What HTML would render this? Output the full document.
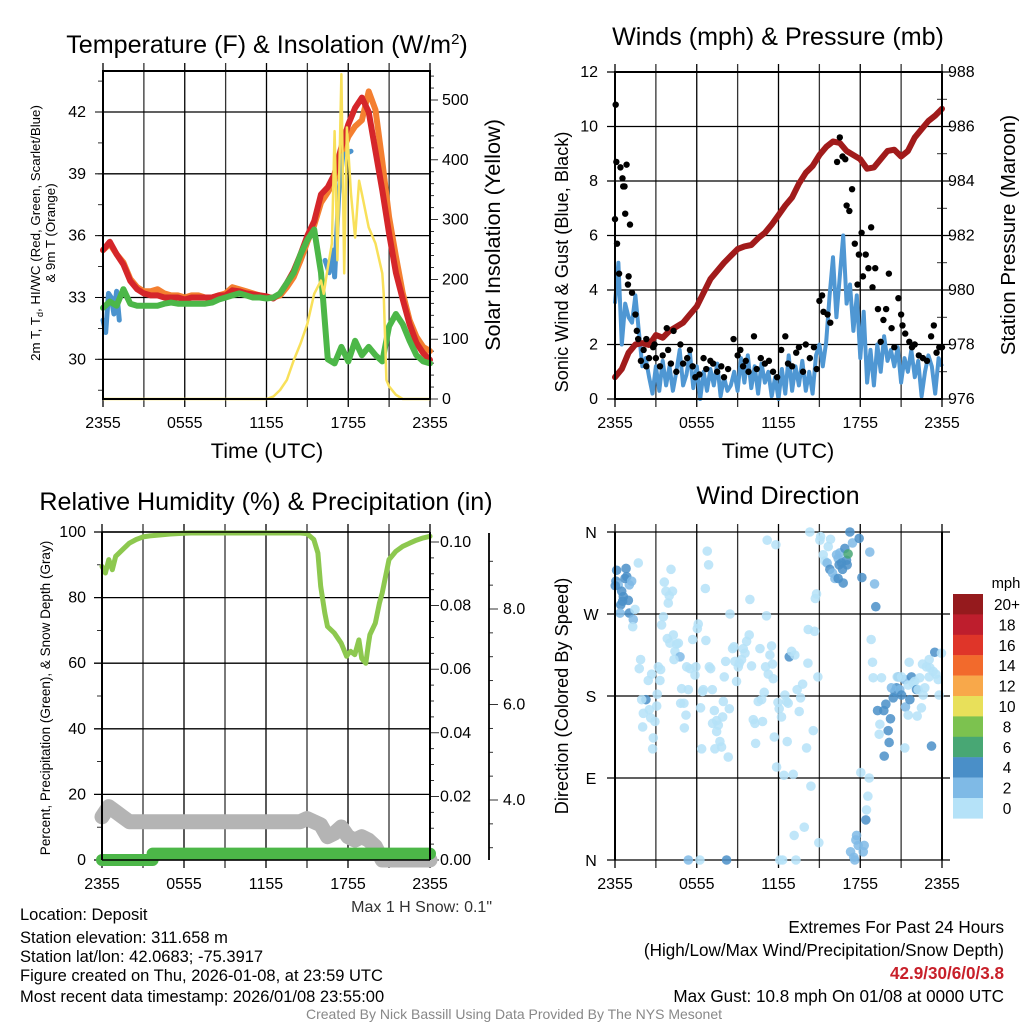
<!DOCTYPE html>
<html><head><meta charset="utf-8"><style>
body{margin:0;background:#fff;width:1024px;height:1024px;overflow:hidden}
svg{font-family:"Liberation Sans",Arial,sans-serif}
</style></head><body>
<svg id="c" width="1024" height="1024" viewBox="0 0 1024 1024" xmlns="http://www.w3.org/2000/svg">
<g id="g"></g>
</svg>
<script>
// ---------- DATA ----------
const hours = []; for (let i = 0; i <= 48; i++) hours.push(i * 0.5);
const tempRed = [35.3,35.7,35.1,34.6,33.8,33.4,33.2,33.1,33.1,33.0,33.0,33.0,32.9,33.0,33.0,33.0,33.0,33.1,33.1,33.35,33.3,33.2,33.15,33.1,33.05,32.95,33.2,33.7,34.3,35.1,36.0,36.7,38.0,38.35,39.0,40.3,41.4,42.2,42.7,42.0,40.1,38.2,36.1,34.2,32.9,31.7,30.8,30.3,29.97];
const tempOrange = [35.3,35.6,35.1,34.7,33.9,33.5,33.3,33.3,33.4,33.2,33.1,33.1,33.0,33.1,33.1,33.0,33.0,33.1,33.2,33.5,33.4,33.3,33.2,33.1,33.0,33.0,33.1,33.5,34.0,34.8,35.7,36.5,37.6,38.1,38.7,39.9,40.8,41.3,41.6,43.0,42.1,39.6,36.9,35.0,33.2,31.9,31.1,30.6,30.4];
const tempGreen = [32.5,32.8,32.6,33.4,32.7,32.6,32.6,32.6,32.6,32.7,32.75,32.7,32.7,32.7,32.7,32.7,32.75,32.9,33.0,33.1,33.2,33.1,33.0,33.0,32.95,33.0,33.2,33.7,34.2,35.1,35.8,36.3,34.2,30.0,29.8,30.6,29.9,30.9,30.2,30.6,30.2,29.9,31.6,32.2,31.7,30.9,30.2,29.9,29.8];
const tempBlueT = [0,0.2,0.4,0.6,0.8,1.0,1.2,null,16.3,16.6,16.9,17.0,17.3,17.6,18.2];
const tempBlueV = [31.9,31.3,33.2,33.0,32.2,33.3,31.9,null,34.8,34.2,35.3,34.0,38.0,39.9,40.1];
const solarT = [0,12,12.5,13,13.5,14,14.5,15,15.5,16,16.2,16.5,16.8,17,17.2,17.5,17.7,17.9,18.2,18.5,18.8,19,19.5,20,20.5,20.6,20.8,21,21.5,22,24];
const solarV = [0,0,4,15,32,65,93,126,176,198,176,220,260,448,232,543,210,454,343,270,365,343,287,260,210,176,32,21,7,0,0];

const windT = []; for (let i = 0; i <= 96; i++) windT.push(i * 0.25);
const windV = [3.5,5.0,2.0,3.5,3.0,2.8,3.8,2.5,1.2,1.5,0.8,0.2,1.2,0.3,1.4,0.5,1.2,0.3,1.0,1.8,0.5,0.9,1.7,0.4,1.2,0.0,1.0,0.3,1.1,0.5,1.3,0.1,0.8,0.3,0.5,1.0,0.3,1.5,0.6,1.6,0.4,1.2,0.2,1.3,0.6,1.0,0.1,0.8,0.0,1.1,0.2,1.6,0.3,1.2,0.5,1.4,0.3,1.0,0.2,1.6,2.0,1.2,2.1,3.8,5.2,3.0,4.5,6.0,3.5,4.2,2.5,3.8,1.5,3.2,0.6,1.8,0.5,2.0,1.0,2.3,1.4,1.8,1.2,1.9,0.6,1.5,1.0,1.8,0.8,1.4,0.1,1.0,1.6,1.2,0.2,1.5,1.2];
const gustT = [0,0.05,0.1,0.15,0.3,0.4,0.55,0.6,0.7,0.75,0.85,0.95,1.0,1.1,1.25,1.5,1.6,1.7,1.9,2.1,2.3,2.3,2.5,2.8,2.9,3.0,3.3,3.5,3.8,3.9,4.1,4.3,4.5,4.8,5.0,5.3,5.5,5.7,5.9,6.2,6.5,6.7,7.0,7.2,7.5,7.8,8.0,8.3,8.7,9.0,9.2,9.4,9.6,9.8,10.2,10.4,10.7,11.0,11.3,11.6,11.9,12.2,12.5,12.7,13.0,13.3,13.5,13.8,14.0,14.3,14.6,14.8,15.0,15.2,15.3,15.6,15.8,16.3,16.5,16.7,16.9,17.0,17.2,17.4,17.6,17.8,17.9,18.1,18.2,18.4,18.6,18.8,18.9,19.1,19.3,19.5,19.7,19.9,20.1,20.3,20.5,20.8,21.0,21.1,21.3,21.6,21.8,22.0,22.3,22.6,22.9,23.2,23.4,23.6,23.8,24];
const gustV = [6.6,10.8,8.7,5.7,4.6,8.5,8.1,7.8,7.8,6.8,8.6,4.2,4.5,6.4,3.9,3.1,2.5,2.2,1.4,1.8,2.2,1.2,1.5,1.9,2.0,1.5,1.2,1.6,2.6,1.8,1.3,2.5,1.0,2.0,1.3,1.5,1.8,1.2,0.8,0.9,1.5,1.1,1.4,1.3,1.0,1.2,0.8,1.1,2.2,1.6,1.8,1.2,1.4,1.0,2.3,1.1,1.5,1.3,1.4,1.0,0.8,1.8,2.3,1.3,1.2,1.7,1.9,1.0,2.0,1.5,1.9,1.1,3.6,3.8,3.2,3.1,2.8,8.7,9.6,8.9,8.8,7.1,6.9,7.7,5.7,4.2,5.3,6.1,4.5,5.3,4.8,6.3,4.1,4.8,3.3,2.1,2.9,3.3,4.6,2.6,1.9,3.7,3.1,2.7,2.4,2.1,1.9,2.0,1.6,1.5,1.4,2.3,2.7,1.7,1.9,1.9];
const pressure = [976.8,977.1,977.7,978.0,978.05,977.98,978.35,978.25,978.5,978.65,978.8,979.1,979.4,979.9,980.4,980.7,981.0,981.25,981.5,981.6,981.65,981.9,982.1,982.4,982.75,983.1,983.4,983.9,984.3,984.55,984.95,985.25,985.45,985.4,985.1,984.95,984.8,984.45,984.5,984.8,985.1,985.15,984.9,985.1,985.6,985.9,986.2,986.4,986.65];

const rhV = [89.5,91.6,92.6,94.6,96.6,97.7,98.5,98.8,99.0,99.2,99.4,99.5,99.6,99.7,99.7,99.7,99.7,99.7,99.7,99.7,99.7,99.7,99.7,99.7,99.7,99.7,99.7,99.7,99.7,99.7,99.5,97.7,83.4,71.2,69.2,66.1,62.8,62.6,61.5,66.0,72.2,81.4,91.6,94.1,95.6,96.6,97.5,98.2,98.7];
const rhExtraT = [0.25,0.75,15.8,16.3,17.9,18.2,18.8,19.1,19.3,19.6,20.3];
const rhExtraV = [87.5,88.5,93.6,75.3,62.1,63.6,67.1,61.0,60.0,68.7,78.3];
const snowV = [3.8,4.7,4.25,3.8,3.37,3.37,3.37,3.37,3.37,3.37,3.37,3.37,3.37,3.37,3.37,3.37,3.37,3.37,3.37,3.37,3.37,3.37,3.37,3.37,3.37,3.37,3.37,3.37,3.37,3.37,3.65,3.37,3.1,2.05,2.35,2.9,2.05,1.75,2.05,1.75,1.2,0,0,0,0,0,0,0,0];
const precipT = [0,3.7,3.7,24];
const precipV = [0,0,0.002,0.002];

const dirT = [0.12,0.07,0.24,0.49,0.61,0.56,0.42,0.86,0.81,1.05,0.98,0.37,1.05,1.34,0.73,0.02,1.22,1.47,1.30,1.71,
1.88,1.78,2.27,1.96,2.08,2.52,2.62,2.93,2.03,2.81,2.76,2.44,2.69,3.18,3.35,3.30,3.10,3.06,3.55,3.42,3.62,3.74,3.91,3.98,4.22,4.11,3.84,4.03,4.28,4.40,4.52,4.77,4.33,4.65,4.89,5.38,4.82,5.06,5.21,5.09,5.26,5.50,5.70,5.87,5.94,6.04,6.11,6.67,6.77,6.87,6.63,6.28,6.43,6.48,7.14,6.36,6.92,7.02,7.29,7.16,7.46,7.58,7.46,7.70,7.82,7.33,7.95,7.90,8.12,8.02,8.31,8.44,8.39,8.63,8.73,8.80,8.92,9.05,9.12,9.29,9.41,9.54,9.66,9.85,9.90,10.02,10.15,10.27,10.32,10.51,10.64,10.76,10.83,10.95,11.05,11.12,11.17,11.25,11.37,11.49,11.56,11.61,11.69,11.81,11.86,11.96,12.05,12.22,12.40,12.47,12.59,12.71,12.64,12.79,12.96,13.20,13.08,13.15,13.37,13.52,13.62,13.77,13.89,14.06,14.16,14.18,14.30,14.38,14.55,14.65,14.70,14.79,14.89,14.96,15.04,15.09,15.65,15.82,
15.28,15.40,15.57,15.77,15.97,16.14,16.26,16.38,16.50,16.45,16.63,16.70,16.75,16.38,16.87,16.99,17.04,17.11,17.24,17.43,17.92,18.12,18.70,19.05,19.14,18.80,18.90,18.95,19.56,
18.04,18.66,18.56,18.46,18.41,17.73,17.68,17.85,18.29,18.22,17.29,17.53,17.60,
19.27,19.73,19.88,19.44,19.39,20.05,20.22,20.12,19.76,20.42,20.54,20.66,20.78,20.29,20.90,21.03,21.27,21.32,21.52,21.64,21.76,21.88,22.00,22.13,22.25,22.37,22.49,22.62,22.74,22.57,22.86,23.06,23.11,23.06,23.23,23.35,23.47,23.55,23.72,23.79,23.96,21.59,21.27,22.18,21.52,21.03,20.71,
5.38,6.23,8.19,12.1,12.3,13.28];
const dirV = [318,306,302,295,289,284,280,311,320,302,285,271,271,264,309,301,306,275,256,326,
220,210,176,176,161,165,156,152,146,134,122,197,204,212,209,197,182,169,267,258,305,295,282,290,295,319,243,238,247,229,237,223,220,238,188,187,172,172,159,145,212,210,242,203,212,254,259,241,339,324,298,167,185,187,187,122,212,210,164,150,153,148,141,130,124,122,174,157,218,201,113,270,166,232,234,218,196,212,216,220,232,227,240,247,286,213,154,150,128,174,232,176,152,184,212,268,351,204,225,235,215,199,135,346,102,173,166,157,93,181,174,172,130,223,229,225,94,27,187,163,178,193,36,123,216,253,360,81,142,251,287,292,201,19,351,355,344,352,
335,328,326,319,315,309,335,331,337,324,326,319,304,309,342,329,324,336,360,348,353,310,338,303,278,242,217,200,200,
96,90,70,55,44,27,22,16,16,9,9,3,0,
164,164,171,149,138,142,155,129,114,178,185,189,201,189,187,181,198,168,159,176,201,194,196,187,187,200,167,181,189,215,212,220,211,201,125,207,228,204,198,181,227,217,123,158,192,201,201,
0,0,0,0,0,0];
const dirS = [4.5,4.5,3,4.5,4.5,4.5,4.5,4.5,4.5,3,4.5,3,4.5,3,4.5,4.5,3,1,1,1,
1,1,4.5,1,1,1,1,1,1,1,1,1,1,1,1,1,1,1,1,1,1,1,1,1,1,1,1,1,1,1,1,3,1,1,1,1,1,1,1,1,1,1,1,1,1,1,1,1,1,1,1,1,1,1,1,1,1,1,1,1,1,1,1,1,1,1,1,1,1,1,1,1,1,1,1,1,1,1,1,1,1,1,1,1,1,1,1,1,1,1,1,1,1,1,1,1,1,1,1,1,1,1,1,1,1,1,1,1,1,1,1,1,1,4.5,1,1,1,1,1,1,1,1,1,1,1,1,1,1,1,1,1,1,1,1,1,1,1,1,1,1,3,
4.5,3,3,3,3,3,4.5,4.5,4.5,4.5,4.5,4.5,4.5,4.5,7,4.5,3,4.5,4.5,3,3,4.5,1,1,1,1,1,1,1,
1,4.5,3,3,3,3,3,3,3,3,4.5,4.5,4.5,
1,1,4.5,4.5,4.5,4.5,4.5,4.5,4.5,4.5,3,3,4.5,3,3,1,4.5,4.5,1,1,4.5,1,1,1,1,1,1,1,1,1,1,4.5,1,4.5,1,1,1,1,1,1,1,1,1,1,3,1,4.5,
1,1,1,1,1,1];

const xTickLabels = ["2355","0555","1155","1755","2355"];
const legendLabels = ["20+","18","16","14","12","10","8","6","4","2","0"];
const legendColors = ["#951a1d","#be1e2d","#df3529","#f26a2c","#f8a84a","#e8e05a","#7cc24f","#48a774","#4a8fc8","#7fbae6","#b5e2f8"];

// ---------- DRAW ----------
const NS = "http://www.w3.org/2000/svg";
const G = document.getElementById('g');
const FS = 1.14;
function el(tag, attrs, parent, text) {
  const e = document.createElementNS(NS, tag);
  for (const k in attrs) e.setAttribute(k, attrs[k]);
  if (text !== undefined) e.textContent = text;
  (parent || G).appendChild(e);
  return e;
}
function lin(d0, d1, r0, r1) { return v => r0 + (v - d0) / (d1 - d0) * (r1 - r0); }
function pathD(xs, ys, X, Y) {
  let d = "", pen = false;
  for (let i = 0; i < xs.length; i++) {
    if (xs[i] === null || ys[i] === null) { pen = false; continue; }
    d += (pen ? "L" : "M") + X(xs[i]).toFixed(1) + " " + Y(ys[i]).toFixed(1);
    pen = true;
  }
  return d;
}
function txt(x, y, s, size, anchor, extra, name) {
  const t = el('text', Object.assign({x: x, y: y, 'font-size': (size * FS).toFixed(1), 'text-anchor': anchor || 'middle', fill: '#000'}, extra || {}), G, s);
  
  
  return t;
}
function frame(x0, y0, x1, y1, name) {
  const gg = el('g', {});
  
  
  for (let i = 0; i <= 8; i++) {
    const x = x0 + (x1 - x0) * i / 8;
    el('line', {x1: x, x2: x, y1: y0 - 8, y2: y1 + 8, stroke: i % 2 ? '#333' : '#000', 'stroke-width': 1.3}, gg);
  }
  for (let i = 0; i < 5; i++) {
    txt(x0 + (x1 - x0) * i / 4, y1 + 29, xTickLabels[i], 14, 'middle', null, 'x-tick-label');
  }
  return gg;
}

// ===== Panel 1 =====
{
  const x0 = 103, x1 = 430, y0 = 71, y1 = 399;
  const X = lin(0, 24, x0, x1), Y = lin(30, 42, 359.3, 112), YS = lin(0, 500, 399, 100);
  const gg = frame(x0, y0, x1, y1, 'temperature-panel');
  [30,33,36,39,42].forEach(v => {
    el('line', {x1: x0, x2: x1, y1: Y(v), y2: Y(v), stroke: '#000', 'stroke-width': 1.3}, gg);
    txt(86, Y(v) + 5, String(v), 14, 'end', null, 'y-tick-label');
    el('line', {x1: x0 - 8, x2: x0, y1: Y(v), y2: Y(v), stroke: '#000'}, gg);
  });
  for (let v = 28.5; v <= 43.5; v += 1.5) el('line', {x1: x0 - 5, x2: x0, y1: Y(v), y2: Y(v), stroke: '#000', 'stroke-width': 0.8}, gg);
  for (let v = 0; v <= 540; v += 20) el('line', {x1: x1, x2: x1 + (v % 100 ? 4 : 8), y1: YS(v), y2: YS(v), stroke: '#000', 'stroke-width': 0.8}, gg);
  [0,100,200,300,400,500].forEach(v => txt(442, YS(v) + 5, String(v), 14, 'start', null, 'y2-tick-label'));
  const s1 = el('path', {d: pathD(hours, tempOrange, X, Y), fill: 'none', stroke: '#f47f30', 'stroke-width': 6, 'stroke-linejoin': 'round', 'stroke-linecap': 'round'});
   
  const s2 = el('path', {d: pathD(hours, tempRed, X, Y), fill: 'none', stroke: '#d5262a', 'stroke-width': 6, 'stroke-linejoin': 'round', 'stroke-linecap': 'round'});
   
  const s3 = el('path', {d: pathD(tempBlueT, tempBlueV, X, Y), fill: 'none', stroke: '#4b93ce', 'stroke-width': 5, 'stroke-linejoin': 'round', 'stroke-linecap': 'round'});
   
  const s4 = el('path', {d: pathD(hours, tempGreen, X, Y), fill: 'none', stroke: '#4cb748', 'stroke-width': 6, 'stroke-linejoin': 'round', 'stroke-linecap': 'round'});
   
  const s5 = el('path', {d: pathD(solarT, solarV, X, YS), fill: 'none', stroke: '#f8e05a', 'stroke-width': 2.5, 'stroke-linejoin': 'round'});
   
  el('rect', {x: x0, y: y0, width: x1 - x0, height: y1 - y0, fill: 'none', stroke: '#000', 'stroke-width': 2});
  txt(267, 53, '', 22, 'middle', null, 'panel-title').innerHTML = 'Temperature (F) &amp; Insolation (W/m<tspan dy="-9" font-size="15">2</tspan><tspan dy="9">)</tspan>';
  txt(267, 458, 'Time (UTC)', 19, 'middle', null, 'x-axis-title');
  const yt = el('text', {x: 0, y: 0, 'font-size': 13.3, 'text-anchor': 'middle', transform: 'translate(40,233) rotate(-90)'});
  
  
  yt.innerHTML = '2m T, T<tspan dy="3" font-size="9">d</tspan><tspan dy="-3">, HI/WC (Red, Green, Scarlet/Blue)</tspan><tspan x="0" dy="15">&amp; 9m T (Orange)</tspan>';
  txt(0, 0, 'Solar Insolation (Yellow)', 19, 'middle', {transform: 'translate(500,235) rotate(-90)'}, 'y2-axis-title');
}

// ===== Panel 2 =====
{
  const x0 = 615, x1 = 942, y0 = 72, y1 = 399;
  const X = lin(0, 24, x0, x1), Y = lin(0, 12, y1, y0), YP = lin(976, 988, y1, y0);
  const gg = frame(x0, y0, x1, y1, 'winds-panel');
  for (let v = 0; v <= 12; v += 2) {
    el('line', {x1: x0 - 8, x2: x1 + 8, y1: Y(v), y2: Y(v), stroke: '#000', 'stroke-width': 1.3}, gg);
    txt(598, Y(v) + 5, String(v), 14, 'end', null, 'y-tick-label');
    txt(948, YP(976 + v) + 5, String(976 + v), 14, 'start', null, 'y2-tick-label');
  }
  for (let v = 1; v < 12; v += 2) el('line', {x1: x1 - 5, x2: x1 + 5, y1: Y(v), y2: Y(v), stroke: '#000', 'stroke-width': 0.8}, gg);
  const w = el('path', {d: pathD(windT, windV, X, Y), fill: 'none', stroke: '#4f97d3', 'stroke-width': 4, 'stroke-linejoin': 'round'});
   
  const p = el('path', {d: pathD(hours, pressure, X, YP), fill: 'none', stroke: '#a11b1b', 'stroke-width': 6, 'stroke-linejoin': 'round', 'stroke-linecap': 'round'});
   
  for (let i = 0; i < gustT.length; i++) {
    const c = el('circle', {cx: X(gustT[i]), cy: Y(gustV[i]), r: 3.2, fill: '#000'});
    
    
  }
  el('rect', {x: x0, y: y0, width: x1 - x0, height: y1 - y0, fill: 'none', stroke: '#000', 'stroke-width': 2});
  txt(778, 45, 'Winds (mph) & Pressure (mb)', 22, 'middle', null, 'panel-title');
  txt(778, 458, 'Time (UTC)', 19, 'middle', null, 'x-axis-title');
  txt(0, 0, 'Sonic Wind & Gust (Blue, Black)', 16, 'middle', {transform: 'translate(568,262) rotate(-90)'}, 'y-axis-title');
  txt(0, 0, 'Station Pressure (Maroon)', 18, 'middle', {transform: 'translate(1015,235) rotate(-90)'}, 'y2-axis-title');
}

// ===== Panel 3 =====
{
  const x0 = 102, x1 = 430, y0 = 532, y1 = 860;
  const X = lin(0, 24, x0, x1), Y = lin(0, 100, y1, y0), YR = lin(0, 0.1, y1, 542), YSn = lin(0, 3.8, y1, 816.8), YA = lin(4, 8, 800, 609);
  const gg = frame(x0, y0, x1, y1, 'humidity-panel');
  for (let v = 0; v <= 100; v += 20) {
    el('line', {x1: x0 - 8, x2: x1, y1: Y(v), y2: Y(v), stroke: '#000', 'stroke-width': 1.3}, gg);
    txt(86, Y(v) + 5, String(v), 14, 'end', null, 'y-tick-label');
  }
  for (let v = 10; v < 100; v += 20) el('line', {x1: x0 - 5, x2: x0, y1: Y(v), y2: Y(v), stroke: '#000', 'stroke-width': 0.8}, gg);
  for (let v = 0; v <= 0.1001; v += 0.005) el('line', {x1: x1, x2: x1 + (Math.round(v * 1000) % 20 ? 4 : 9), y1: YR(v), y2: YR(v), stroke: '#000', 'stroke-width': 0.8}, gg);
  ['0.00','0.02','0.04','0.06','0.08','0.10'].forEach((s, i) => txt(440, YR(i * 0.02) + 5, s, 14, 'start', null, 'y2-tick-label'));
  el('line', {x1: 489, x2: 489, y1: 533, y2: 860, stroke: '#000', 'stroke-width': 1.8}, gg);
  for (let v = 3; v <= 9.4; v += 0.5) el('line', {x1: 489, x2: 489 + (v % 2 === 0 ? 9 : 4), y1: YA(v), y2: YA(v), stroke: '#000', 'stroke-width': 0.8}, gg);
  ['4.0','6.0','8.0'].forEach((s, i) => txt(503, YA(4 + 2 * i) + 5, s, 14, 'start', null, 'snow-tick-label'));
  const sn = el('path', {d: pathD(hours, snowV, X, YSn), fill: 'none', stroke: '#b4b4b4', 'stroke-width': 15, 'stroke-linejoin': 'round', 'stroke-linecap': 'round'});
   
  const pr = el('path', {d: pathD(precipT, precipV, X, YR), fill: 'none', stroke: '#4cb748', 'stroke-width': 12, 'stroke-linejoin': 'round', 'stroke-linecap': 'round'});
   
  const rt = hours.concat(rhExtraT), rv = rhV.concat(rhExtraV);
  const idx = rt.map((t, i) => i).sort((a, b) => rt[a] - rt[b]);
  const rh = el('path', {d: pathD(idx.map(i => rt[i]), idx.map(i => rv[i]), X, Y), fill: 'none', stroke: '#8dc84f', 'stroke-width': 5, 'stroke-linejoin': 'round', 'stroke-linecap': 'round'});
   
  el('line', {x1: x0, x2: x0, y1: y0, y2: y1, stroke: '#000', 'stroke-width': 2});
  el('line', {x1: x1, x2: x1, y1: y0, y2: y1, stroke: '#000', 'stroke-width': 2});
  el('line', {x1: x0, x2: x1, y1: y0, y2: y0, stroke: '#000', 'stroke-width': 1.5});
  el('line', {x1: x0, x2: x1, y1: y1, y2: y1, stroke: '#000', 'stroke-width': 1.5});
  txt(266, 510, 'Relative Humidity (%) & Precipitation (in)', 22, 'middle', null, 'panel-title');
  txt(0, 0, 'Percent, Precipitation (Green), & Snow Depth (Gray)', 11.8, 'middle', {transform: 'translate(50,698) rotate(-90)'}, 'y-axis-title');
  txt(492, 912, 'Max 1 H Snow: 0.1"', 14, 'end', {fill: '#333'}, 'max-snow-note');
}

// ===== Panel 4 =====
{
  const x0 = 615, x1 = 942, y0 = 532, y1 = 860;
  const X = lin(0, 24, x0, x1), Y = lin(0, 360, y1, y0);
  const gg = frame(x0, y0, x1, y1, 'wind-direction-panel');
  ['N','E','S','W','N'].forEach((s, i) => {
    el('line', {x1: x0 - 8, x2: x1 + 8, y1: Y(i * 90), y2: Y(i * 90), stroke: '#000', 'stroke-width': 1.3}, gg);
    txt(591, Y(i * 90) + 6, s, 14, 'middle', null, 'direction-tick-label');
  });
  function colorFor(s) { const k = Math.min(10, Math.floor(s / 2)); return legendColors[10 - k]; }
  for (let i = 0; i < dirT.length; i++) {
    const c = el('circle', {cx: X(dirT[i]), cy: Y(dirV[i]), r: 4.8, fill: colorFor(dirS[i]), 'fill-opacity': 0.85});
    
    
  }
  el('line', {x1: x0, x2: x0, y1: y0, y2: y1, stroke: '#000', 'stroke-width': 2});
  el('line', {x1: x1, x2: x1, y1: y0, y2: y1, stroke: '#000', 'stroke-width': 2});
  txt(778, 504, 'Wind Direction', 22, 'middle', null, 'panel-title');
  txt(0, 0, 'Direction (Colored By Speed)', 16, 'middle', {transform: 'translate(568,696) rotate(-90)'}, 'y-axis-title');
  txt(1006, 588, 'mph', 13, 'middle', null, 'legend-title');
  for (let i = 0; i < 11; i++) {
    const r = el('rect', {x: 953, y: 594 + i * 20.4, width: 30, height: 20.6, fill: legendColors[i]});
    
    
    txt(1007, 594 + i * 20.4 + 16, legendLabels[i], 13.5, 'middle', null, 'legend-label');
  }
}

// ===== footer text =====
const info = ['Location: Deposit','Station elevation: 311.658 m','Station lat/lon: 42.0683; -75.3917','Figure created on Thu, 2026-01-08, at 23:59 UTC','Most recent data timestamp: 2026/01/08 23:55:00'];
const infoY = [920, 943, 962, 981, 1002];
info.forEach((s, i) => txt(20, infoY[i], s, 14.5, 'start', null, 'station-info-line'));
txt(1004, 933, 'Extremes For Past 24 Hours', 15, 'end', null, 'extremes-title');
txt(1004, 956, '(High/Low/Max Wind/Precipitation/Snow Depth)', 15, 'end', null, 'extremes-subtitle');
txt(1004, 979, '42.9/30/6/0/3.8', 15, 'end', {fill: '#c8202a', 'font-weight': 'bold'}, 'extremes-values');
txt(1004, 1002, 'Max Gust: 10.8 mph On 01/08 at 0000 UTC', 15, 'end', null, 'max-gust');
txt(514, 1019, 'Created By Nick Bassill Using Data Provided By The NYS Mesonet', 12.3, 'middle', {fill: '#888'}, 'credit');
</script>
</body></html>
